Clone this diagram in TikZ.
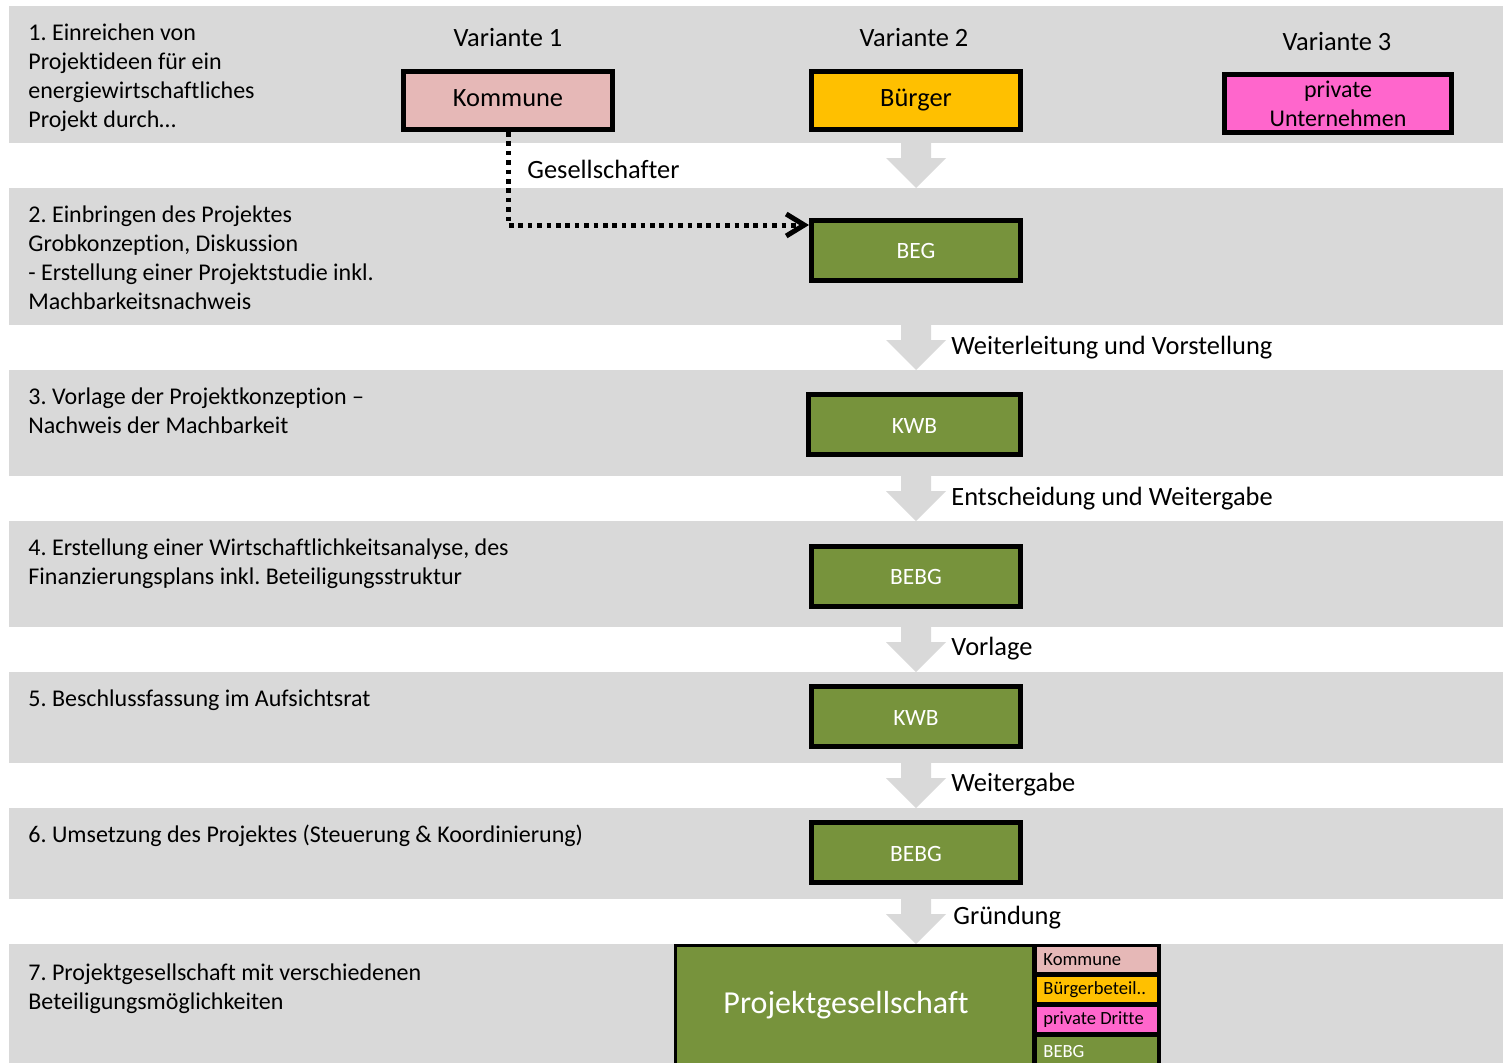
\documentclass[tikz,border=0pt]{standalone}
\usepackage{fontspec}
\setmainfont{Carlito}[Ligatures=NoCommon]
\usepackage{tikz}
\usetikzlibrary{arrows.meta}
\frenchspacing

\definecolor{bandgray}{HTML}{D9D9D9}
\definecolor{kompink}{HTML}{E6B8B7}
\definecolor{bueorange}{HTML}{FFC000}
\definecolor{pumagenta}{HTML}{FF66CC}
\definecolor{stagegreen}{HTML}{77933C}

\newcommand{\stufe}[1]{\begin{tabular}[t]{@{}l@{}}#1\end{tabular}}

\begin{document}
\begin{tikzpicture}[x=0.5pt,y=-0.5pt]
        \useasboundingbox (0,0) rectangle (1503,1062);
        \clip (0,0) rectangle (1503,1062);
        % Zeilen
        \foreach \ya/\yb in {6/143,188/325,370/476,521/627,672/763,808/899,944/1080}
                \fill[bandgray] (9,\ya) rectangle (1503,\yb);
        % Blockpfeile
        \foreach \y in {143,325,476,627,763,899}
                \fill[bandgray] (901,\y) -- (931,\y) -- (931,\y+15) -- (946,\y+15) -- (916,\y+45) -- (886,\y+15) -- (901,\y+15) -- cycle;
        \begin{scope}[every node/.style={anchor=base west, inner sep=0, font=\fontsize{12pt}{14.5pt}\selectfont}]
                \node (t1) at (28,40) {\stufe{1. Einreichen von\\Projektideen für ein\\energiewirtschaftliches\\Projekt durch…}};
                \node (t2) at (28,222) {\stufe{2. Einbringen des Projektes\\Grobkonzeption, Diskussion\\- Erstellung einer Projektstudie inkl.\\Machbarkeitsnachweis}};
                \node (t3) at (28,404) {\stufe{3. Vorlage der Projektkonzeption –\\Nachweis der Machbarkeit}};
                \node (t4) at (28,555) {\stufe{4. Erstellung einer Wirtschaftlichkeitsanalyse, des\\Finanzierungsplans inkl. Beteiligungsstruktur}};
                \node (t5) at (28,706) {\stufe{5. Beschlussfassung im Aufsichtsrat}};
                \node (t6) at (28,842) {\stufe{6. Umsetzung des Projektes (Steuerung \& Koordinierung)}};
                \node (t7) at (28,980) {\stufe{7. Projektgesellschaft mit verschiedenen\\Beteiligungsmöglichkeiten}};
        \end{scope}
        \begin{scope}[every node/.style={inner sep=0, font=\fontsize{13.2pt}{16pt}\selectfont}]
                \node (v1) at (508,38) {Variante 1};
                \node (v2) at (914,38) {Variante 2};
                \node (v3) at (1337,42) {Variante 3};
        \end{scope}
        \begin{scope}[every node/.style={draw, line width=2.5pt, inner sep=0, minimum width=104.5pt, minimum height=29pt, text height=9pt, text depth=3pt, font=\fontsize{13.2pt}{16pt}\selectfont}]
                \node[fill=kompink] (kom) at (508,100.5) {Kommune};
                \node[fill=bueorange] (bue) at (916,100) {Bürger};
                \node[fill=pumagenta, minimum width=113.5pt, text height=, text depth=, text width=110pt, align=center, font=\fontsize{12pt}{14.5pt}\selectfont] (pu) at (1338,103.5) {private\\Unternehmen};
        \end{scope}
        \begin{scope}[every node/.style={draw, fill=stagegreen, text=white, line width=2.5pt, inner sep=0, minimum width=104.5pt, minimum height=30pt, text height=9.5pt, text depth=1pt, font=\fontsize{11.7pt}{14pt}\selectfont}]
                \node (beg) at (916,250) {BEG};
                \node[minimum width=106pt] (kwb1) at (914.5,424.5) {KWB};
                \node (bebg1) at (916,576) {BEBG};
                \node (kwb2) at (916,716.5) {KWB};
                \node (bebg2) at (916,852.5) {BEBG};
        \end{scope}
        % Projektgesellschaft
        \node[fill=black, anchor=north west, inner sep=0, minimum width=243.5pt, minimum height=70pt] (pgframe) at (674,944) {};
        \node[fill=stagegreen, anchor=north west, inner sep=0, minimum width=177.5pt, minimum height=65pt] (pg) at (677,947) {};
        \node[text=white, font=\fontsize{16pt}{19pt}\selectfont] (pgtext) at (846,1005) {Projektgesellschaft};
        \begin{scope}[every node/.style={anchor=north west, inner sep=0, inner xsep=3pt, minimum height=12.5pt, font=\fontsize{9.3pt}{11pt}\selectfont}]
                \node[fill=kompink] (pgkom) at (1037,947) {\makebox[54pt][l]{Kommune}};
                \node[fill=bueorange] (pgbue) at (1037,977) {\makebox[54pt][l]{Bürgerbeteil..}};
                \node[fill=pumagenta] (pgpd) at (1037,1007) {\makebox[54pt][l]{private Dritte}};
                \node[fill=stagegreen, text=white, minimum height=14pt] (pgbebg) at (1037,1037) {\makebox[54pt][l]{BEBG}};
        \end{scope}
        % Gesellschafter-Pfeil
        \draw[line width=2.5pt, dash pattern=on 2.3pt off 2.4pt, -{Straight Barb[length=9pt,width=11pt]}] (kom.south) |- ([yshift=12.5pt]beg.west);
        \begin{scope}[every node/.style={anchor=base west, inner sep=0, font=\fontsize{13.2pt}{16pt}\selectfont}]
                \node (l1) at (527,178) {Gesellschafter};
                \node (l2) at (951,354) {Weiterleitung und Vorstellung};
                \node (l3) at (951,505) {Entscheidung und Weitergabe};
                \node (l4) at (951,655) {Vorlage};
                \node (l5) at (951,791) {Weitergabe};
                \node (l6) at (953,924) {Gründung};
        \end{scope}
\end{tikzpicture}
\end{document}
